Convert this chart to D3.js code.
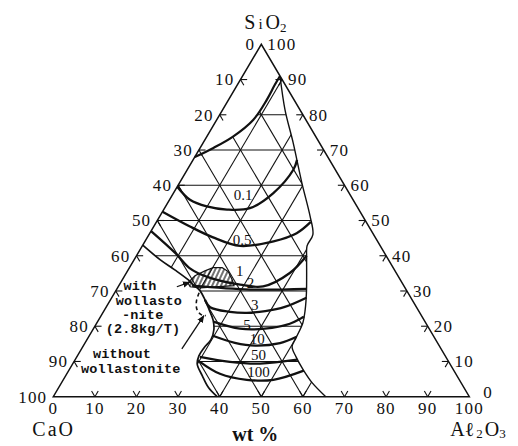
<!DOCTYPE html>
<html>
<head>
<meta charset="utf-8">
<script src="https://cdn.jsdelivr.net/npm/d3@7"></script>
<style>
  body { margin: 0; background: #fff; }
  svg { display: block; }
  .num { font-family: 'Liberation Serif', serif; font-size: 17px; letter-spacing: 1.2px; fill: #111; }
  .iso-label { font-family: 'Liberation Serif', serif; font-size: 15px; fill: #111; }
  .corner { font-family: 'Liberation Serif', serif; font-size: 20px; fill: #111; }
  .note { font-family: 'Liberation Mono', monospace; font-size: 13.5px; letter-spacing: 0.2px; font-weight: bold; fill: #111; }
</style>
</head>
<body>
<div id="chart"></div>
<script>
// every point is [Al2O3, SiO2] in wt %, CaO is the rest
var tickValues = d3.range(0, 101, 10);
var gridValues = d3.range(10, 100, 10);

// outline of the slag region, clockwise from the top
var rightBoundary = [[9, 91], [15.0, 81.4], [21.6, 72.1], [29.4, 60.7], [36.2, 51.1], [39.4, 46.0],
  [39.6, 42.8], [41.2, 39.4], [43.7, 34.4], [46.1, 29.5], [48.2, 24.7], [49.5, 21.0], [50.0, 16.7],
  [50.3, 14.2], [52.7, 11.3], [56.2, 7.7], [60.2, 4.0], [65.5, 0]];
var lowerBoundary = [[39.4, 0], [36.0, 2.6], [32.8, 6.0], [30.0, 9.2], [29.2, 11.6], [29.3, 13.9],
  [29.8, 16.2], [29.1, 19.0], [27.5, 21.8], [25.1, 24.7], [22.7, 27.5], [20.2, 30.1], [17.3, 32.1],
  [15.8, 33.2], [11.2, 36.0], [6.2, 38.9], [0, 43]];
var topBoundary = [[0, 68], [3.2, 70.6], [6.3, 73.8], [8.8, 78.6], [9.2, 84.3], [9.0, 88.5], [9, 91]];

// iso-viscosity curves and where their values are written
var isoValues = ['0.1', '0.5', '1', '2', '3', '5', '10', '50', '100'];
var isoCurves = [
  [[0, 59.6], [4.9, 55.9], [9.9, 54.0], [15.2, 53.1], [20.5, 53.5], [24.0, 57.8], [25.5, 64.4], [25.0, 67.2]],
  [[0, 52.5], [8.7, 48.3], [15.6, 45.3], [23.5, 42.8], [30.9, 44.1], [35.3, 46.4], [37.1, 49.6]],
  [[0, 47], [8.9, 40.8], [14.5, 36.5], [20, 34], [29, 31.8], [34.8, 31.3], [39.3, 35.1], [40.9, 40]],
  [[17.6, 31.5], [32.1, 30.4], [45.5, 30.6]],
  [[22.7, 27.5], [25.0, 25.4], [30.4, 24.1], [34.6, 23.8], [38.8, 24.3], [42.9, 25.5], [46.8, 28.1]],
  [[27.8, 21.3], [35.2, 19.3], [41.2, 19.3], [46.5, 20.7], [48.9, 22.7]],
  [[29.7, 17.3], [36.0, 15.3], [41.3, 14.5], [46.9, 15.2], [50.0, 17.0]],
  [[29.6, 11.3], [37.5, 9.9], [45.0, 9.4], [53.4, 10.5]],
  [[30.3, 9.9], [36.8, 6.5], [44.1, 4.8], [50.5, 4.8], [56.5, 7.4]]
];
var isoLabelAt = [[17, 57.3], [23.1, 44.6], [26.9, 35.8], [31.2, 32.4], [35.4, 26.1], [36.4, 20.3],
  [40.8, 16.4], [43.4, 11.8], [45.8, 7.1]];

// wollastonite area and the limit without it
var wollastoniteArea = [[16.2, 32.3], [16.9, 34.3], [18.6, 35.7], [20.1, 36.6], [22.3, 36.6], [24.3, 35.5],
  [26.4, 33.2], [27.7, 31.5], [19.8, 30.9], [17.3, 31.2]];
var withoutLimit = [[20.3, 29.5], [20.9, 27.0], [22.2, 24.7], [23.9, 23.3], [25.2, 23.0]];

var noteLines = ['with', 'wollasto', '-nite', '(2.8kg/T)', 'without', 'wollastonite'];
var noteAt = [[1.7, 30.3], [2.0, 26.0], [5.5, 22.0], [3.6, 18.0], [4.0, 11.1], [3.3, 6.7]];
var arrows = [[[14.1, 31.2], [16.6, 32.5]], [[24.1, 13.6], [24.7, 23.0]]];

var width = 518;
var height = 446;

var x = d3.scaleLinear().domain([0, 100]).range([53.3, 469.3]);
var y = d3.scaleLinear().domain([0, 100]).range([396.7, 44.3]);

function px(p) {
  return [x(p[0] + p[1] / 2), y(p[1])];
}

var smooth = d3.line()
  .x(function(d) { return px(d)[0]; })
  .y(function(d) { return px(d)[1]; })
  .curve(d3.curveCatmullRom.alpha(0.5));
var straight = d3.line()
  .x(function(d) { return px(d)[0]; })
  .y(function(d) { return px(d)[1]; });

var svg = d3.select('#chart').append('svg')
  .attr('width', width)
  .attr('height', height);

var defs = svg.append('defs');

// The straight runs on the bottom and left edges come from the L joins.
var regionPath = smooth(rightBoundary) +
  smooth(lowerBoundary).replace(/^M/, 'L') +
  smooth(topBoundary).replace(/^M/, 'L') + 'Z';

defs.append('clipPath').attr('id', 'region-clip')
  .append('path').attr('d', regionPath);

var hatch = defs.append('pattern')
  .attr('id', 'hatch')
  .attr('patternUnits', 'userSpaceOnUse')
  .attr('width', 4)
  .attr('height', 4)
  .attr('patternTransform', 'rotate(25)');
hatch.append('line')
  .attr('x1', 1).attr('y1', 0).attr('x2', 1).attr('y2', 4)
  .attr('stroke', '#111').attr('stroke-width', 1.2);

defs.append('marker')
  .attr('id', 'arrow')
  .attr('viewBox', '0 0 10 10')
  .attr('refX', 9).attr('refY', 5)
  .attr('markerWidth', 6).attr('markerHeight', 6)
  .attr('orient', 'auto')
  .append('path').attr('d', 'M0,1L10,5L0,9Z').attr('fill', '#111');

// 10 % grid, only inside the region
var gridSegments = [];
gridValues.forEach(function(v) {
  gridSegments.push([[0, v], [100 - v, v]]);
  gridSegments.push([[v, 0], [v, 100 - v]]);
  gridSegments.push([[100 - v, 0], [0, 100 - v]]);
});

svg.append('g')
  .attr('clip-path', 'url(#region-clip)')
  .selectAll('path')
  .data(gridSegments)
  .enter().append('path')
  .attr('d', straight)
  .attr('fill', 'none')
  .attr('stroke', '#111')
  .attr('stroke-width', 1.1);

svg.append('path')
  .attr('d', straight(wollastoniteArea) + 'Z')
  .attr('fill', 'url(#hatch)')
  .attr('stroke', '#111')
  .attr('stroke-width', 1.2);

svg.append('path')
  .attr('d', smooth(rightBoundary))
  .attr('fill', 'none').attr('stroke', '#111').attr('stroke-width', 1.4);
svg.append('path')
  .attr('d', smooth(lowerBoundary))
  .attr('fill', 'none').attr('stroke', '#111').attr('stroke-width', 1.7);
svg.append('path')
  .attr('d', smooth(topBoundary))
  .attr('fill', 'none').attr('stroke', '#111').attr('stroke-width', 2.2);

svg.append('g')
  .selectAll('path')
  .data(isoCurves)
  .enter().append('path')
  .attr('d', smooth)
  .attr('fill', 'none')
  .attr('stroke', '#111')
  .attr('stroke-width', 2.3);

svg.append('path')
  .attr('d', smooth(withoutLimit))
  .attr('fill', 'none')
  .attr('stroke', '#111')
  .attr('stroke-width', 1.6)
  .attr('stroke-dasharray', '4,3');

// triangle
svg.append('path')
  .attr('d', straight([[0, 0], [100, 0], [0, 100]]) + 'Z')
  .attr('fill', 'none')
  .attr('stroke', '#111')
  .attr('stroke-width', 1.5);

// ticks are short stubs of the two grid directions at each edge
var t = 1.6;
var tickSegments = [];
gridValues.forEach(function(v) {
  tickSegments.push([[v, 0], [v, t]], [[v, 0], [v - t, t]]);
  tickSegments.push([[0, v], [t, v]], [[0, v], [t, v - t]]);
  tickSegments.push([[100 - v, v], [100 - v - t, v]], [[100 - v, v], [100 - v, v - t]]);
});
svg.append('g')
  .selectAll('path')
  .data(tickSegments)
  .enter().append('path')
  .attr('d', straight)
  .attr('stroke', '#111')
  .attr('stroke-width', 1.1);

// CaO along the left edge
svg.append('g')
  .selectAll('text')
  .data(tickValues)
  .enter().append('text')
  .attr('class', 'num')
  .attr('x', function(d) { return px([0, 100 - d])[0] - 6; })
  .attr('y', function(d) { return px([0, 100 - d])[1]; })
  .attr('dy', '0.35em')
  .attr('text-anchor', 'end')
  .text(function(d) { return d; });

// SiO2 along the right edge
svg.append('g')
  .selectAll('text')
  .data(tickValues)
  .enter().append('text')
  .attr('class', 'num')
  .attr('x', function(d) { return px([100 - d, d])[0] + 6; })
  .attr('y', function(d) { return px([100 - d, d])[1]; })
  .attr('dx', function(d) { return d === 0 ? 8 : 0; })
  .attr('dy', function(d) { return d === 0 ? '0.1em' : '0.35em'; })
  .text(function(d) { return d; });

// Al2O3 along the bottom
svg.append('g')
  .selectAll('text')
  .data(tickValues)
  .enter().append('text')
  .attr('class', 'num')
  .attr('x', function(d) { return px([d, 0])[0]; })
  .attr('y', function(d) { return px([d, 0])[1] + 17; })
  .attr('text-anchor', 'middle')
  .text(function(d) { return d; });

svg.append('g')
  .selectAll('text')
  .data(isoValues)
  .enter().append('text')
  .attr('class', 'iso-label')
  .attr('x', function(d, i) { return px(isoLabelAt[i])[0]; })
  .attr('y', function(d, i) { return px(isoLabelAt[i])[1]; })
  .attr('dy', '0.35em')
  .attr('text-anchor', 'middle')
  .text(function(d) { return d; });

svg.append('g')
  .selectAll('text')
  .data(noteLines)
  .enter().append('text')
  .attr('class', 'note')
  .attr('x', function(d, i) { return px(noteAt[i])[0]; })
  .attr('y', function(d, i) { return px(noteAt[i])[1]; })
  .text(function(d) { return d; });

svg.append('g')
  .selectAll('path')
  .data(arrows)
  .enter().append('path')
  .attr('d', straight)
  .attr('stroke', '#111')
  .attr('stroke-width', 1.3)
  .attr('marker-end', 'url(#arrow)');

// corner names
var apex = px([0, 100]);
var left = px([0, 0]);
var right = px([100, 0]);

var title = svg.append('text')
  .attr('class', 'corner')
  .attr('x', apex[0] - 17)
  .attr('y', apex[1] - 15);
title.append('tspan').text('S');
title.append('tspan').attr('dx', 3).attr('font-size', 15).text('i');
title.append('tspan').attr('dx', 3).text('O');
title.append('tspan').attr('font-size', 13).attr('dy', 3).text('2');

svg.append('text')
  .attr('class', 'corner')
  .attr('x', left[0] - 21)
  .attr('y', left[1] + 39)
  .attr('letter-spacing', 2)
  .text('CaO');

var al = svg.append('text')
  .attr('class', 'corner')
  .attr('x', right[0] - 19)
  .attr('y', right[1] + 39);
al.append('tspan').text('Aℓ');
al.append('tspan').attr('font-size', 13).attr('dx', 2).attr('dy', 2).text('2');
al.append('tspan').attr('dx', 2).attr('dy', -2).text('O');
al.append('tspan').attr('font-size', 13).attr('dy', 2).text('3');

svg.append('text')
  .attr('class', 'corner')
  .attr('x', px([50, 0])[0] - 6)
  .attr('y', left[1] + 44)
  .attr('text-anchor', 'middle')
  .attr('font-size', 17)
  .attr('font-weight', 'bold')
  .text('wt %');
</script>
</body>
</html>
